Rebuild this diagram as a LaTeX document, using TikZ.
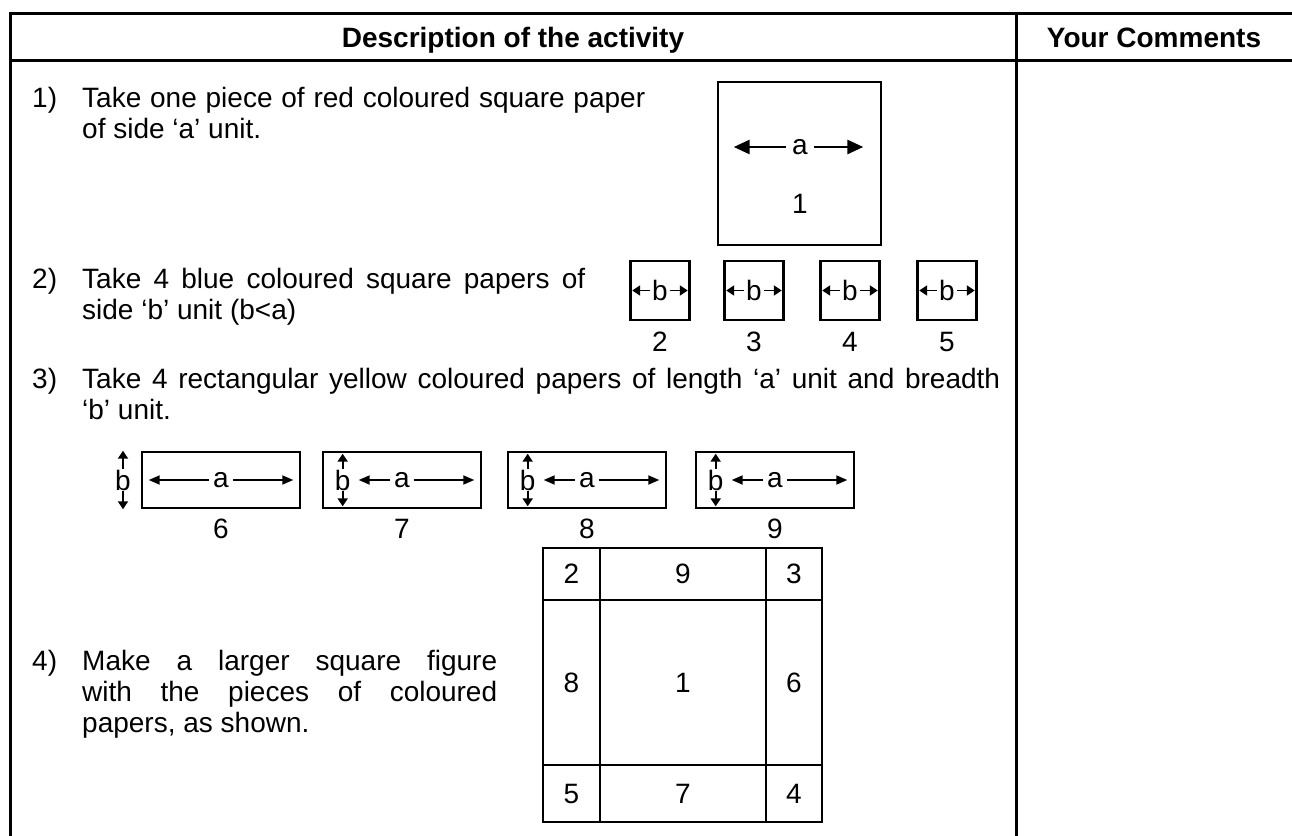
\documentclass[tikz,border=0pt]{standalone}
\usepackage{fontspec}
\setmainfont{Liberation Sans}
\usetikzlibrary{arrows.meta,positioning}

\begin{document}
\begin{tikzpicture}[
  x=1bp, y=-1bp,
  font=\fontsize{28bp}{31bp}\selectfont,
  rule/.style={line width=3bp},
  headtext/.style={anchor=base, font=\fontsize{28bp}{31bp}\selectfont\bfseries},
  itemno/.style={anchor=base west, inner sep=0pt},
  itemtext/.style={anchor=base west, inner sep=0pt, align=justify},
  paper/.style={draw, line width=2.6bp, inner sep=0pt},
  bigpaper/.style={paper, minimum width=163bp, minimum height=163bp},
  smallpaper/.style={paper, minimum width=59bp, minimum height=59bp},
  strippaper/.style={paper, minimum width=158bp, minimum height=56bp},
  letter/.style={inner sep=4bp},
  tag/.style={inner sep=0pt, text height=20bp, text depth=0pt},
  bigarrow/.style={-{Triangle[length=16bp,width=14bp]}, line width=2.8bp},
  longarrow/.style={-{Triangle[length=11bp,width=9bp]}, line width=1.8bp},
  tinyarrow/.style={-{Triangle[length=8bp,width=10bp]}, line width=1.9bp}
]

  \useasboundingbox (0,0) rectangle (1292,836);

  % Table frame
  \draw[rule] (10,836) -- (10,13) -- (1292,13);
  \draw[rule] (10,60) -- (1292,60);
  \draw[rule] (1016,13) -- (1016,836);

  % Header
  \node[headtext] (hdesc) at (513,47) {Description of the activity};
  \node[headtext] (hcomm) at (1154,47) {Your Comments};

  % --- STEP 1: one square of side a ---
  \node[itemno] (n1) at (32,107) {1)};
  \node[itemtext, text width=563bp] (t1) at (82,107) {Take one piece of red coloured square paper of side ‘a’ unit.};
  \node[bigpaper] (sq1) at (799.5,163.5) {};
  \node[letter, inner sep=6bp] (a1) at (800,147) {a};
  \node[tag] (l1) at (800,203) {1};
  \draw[bigarrow, shorten >=17bp] (a1.west) -- (sq1.west |- a1);
  \draw[bigarrow, shorten >=19bp] (a1.east) -- (sq1.east |- a1);

  % --- STEP 2: four squares of side b ---
  \node[itemno] (n2) at (32,288) {2)};
  \node[itemtext, text width=503bp] (t2) at (82,288) {Take 4 blue coloured square papers of side ‘b’ unit (b<a)};
  \foreach \n/\x in {2/660,3/754,4/850,5/947} {
    \node[smallpaper] (sq\n) at (\x,290.5) {};
    \node[letter, inner sep=2bp] (b\n) at (sq\n) {b};
    \draw[tinyarrow, shorten >=3bp] (b\n.west) -- (sq\n.west |- b\n);
    \draw[tinyarrow, shorten >=3bp] (b\n.east) -- (sq\n.east |- b\n);
    \node[tag, below=10bp of sq\n] (l\n) {\n};
  }

  % --- STEP 3: four rectangles a x b ---
  \node[itemno] (n3) at (32,388) {3)};
  \node[itemtext, text width=918bp] (t3) at (82,388) {Take 4 rectangular yellow coloured papers of length ‘a’ unit and breadth\linebreak ‘b’ unit.};

  \node[strippaper] (s6) at (221,480) {};
  \node[letter] (a6) at (s6) {a};
  \draw[longarrow, shorten >=8bp] (a6.west) -- (s6.west |- a6);
  \draw[longarrow, shorten >=8bp] (a6.east) -- (s6.east |- a6);
  \node[letter, inner sep=1bp] (b6) at (123,480) {b};
  \draw[tinyarrow] (b6.north) -- (b6.north |- s6.north);
  \draw[tinyarrow] (b6.south) -- (b6.south |- s6.south);
  \node[tag, below=9bp of s6] (l6) {6};

  \foreach \n/\x in {7/402,8/587,9/775} {
    \node[strippaper] (s\n) at (\x,480) {};
    \node[letter, inner sep=1bp, anchor=west] (b\n) at ([xshift=12bp]s\n.west) {b};
    \draw[tinyarrow, shorten >=3bp] (b\n.north) -- (b\n.north |- s\n.north);
    \draw[tinyarrow, shorten >=3bp] (b\n.south) -- (b\n.south |- s\n.south);
    \node[letter] (a\n) at (s\n) {a};
    \draw[longarrow, shorten >=7bp] (a\n.west) -- (b\n.east |- a\n);
    \draw[longarrow, shorten >=8bp] (a\n.east) -- (s\n.east |- a\n);
    \node[tag, below=9bp of s\n] (l\n) {\n};
  }

  % --- STEP 4: the larger square ---
  \node[itemno] (n4) at (32,670) {4)};
  \node[itemtext, text width=415bp] (t4) at (82,670) {Make a larger square figure\linebreak with the pieces of coloured\linebreak papers, as shown.};

  \node[paper, minimum width=57bp, minimum height=52bp] (c2) at (571.5,574) {2};
  \node[paper, minimum width=166bp, minimum height=52bp] (c9) at (683,574) {9};
  \node[paper, minimum width=56bp, minimum height=52bp] (c3) at (794,574) {3};
  \node[paper, minimum width=57bp, minimum height=165bp] (c8) at (571.5,682.5) {8};
  \node[paper, minimum width=166bp, minimum height=165bp] (c1) at (683,682.5) {1};
  \node[paper, minimum width=56bp, minimum height=165bp] (c6) at (794,682.5) {6};
  \node[paper, minimum width=57bp, minimum height=57bp] (c5) at (571.5,793.5) {5};
  \node[paper, minimum width=166bp, minimum height=57bp] (c7) at (683,793.5) {7};
  \node[paper, minimum width=56bp, minimum height=57bp] (c4) at (794,793.5) {4};

\end{tikzpicture}
\end{document}
